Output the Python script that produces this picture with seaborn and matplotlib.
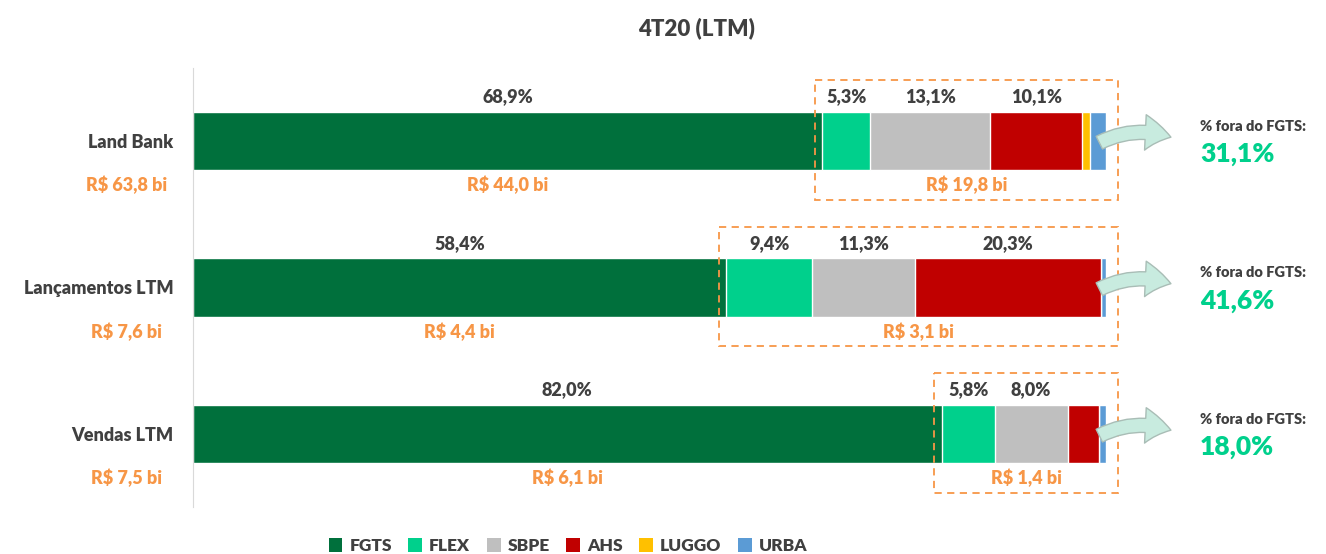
import numpy as np
import pandas as pd
import seaborn as sns
import matplotlib.pyplot as plt
from matplotlib.patches import Rectangle, Patch, FancyArrowPatch

# data
categories = ["Land Bank", "Lançamentos LTM", "Vendas LTM"]
segments = ["FGTS", "FLEX", "SBPE", "AHS", "LUGGO", "URBA"]
fgts = [68.9, 58.4, 82.0]
flex = [5.3, 9.4, 5.8]
sbpe = [13.1, 11.3, 8.0]
ahs = [10.1, 20.3, 3.4]
luggo = [0.9, 0.0, 0.0]
urba = [1.7, 0.6, 0.8]
total_bi = ["R$ 63,8 bi", "R$ 7,6 bi", "R$ 7,5 bi"]
fgts_bi = ["R$ 44,0 bi", "R$ 4,4 bi", "R$ 6,1 bi"]
other_bi = ["R$ 19,8 bi", "R$ 3,1 bi", "R$ 1,4 bi"]
fora_pct = ["31,1%", "41,6%", "18,0%"]

colors = ["#00703C", "#00D08C", "#BFBFBF", "#C00000", "#FFC000", "#5B9BD5"]
ORANGE = "#F79646"
DARK = "#404040"
W = "heavy"


def fmt_pct(v):
    return f"{v:.1f}%".replace(".", ",")


def main():
    sns.set_style("white")
    plt.rcParams["font.family"] = ["Lato", "DejaVu Sans"]

    df = pd.DataFrame({"FGTS": fgts, "FLEX": flex, "SBPE": sbpe, "AHS": ahs,
                       "LUGGO": luggo, "URBA": urba}, index=categories)
    cum = df.cumsum(axis=1)

    fig = plt.figure(figsize=(13.26, 5.54), dpi=100)
    ax = fig.add_axes([193 / 1326, 0.0844, 913 / 1326, 0.7933])

    # stacked bars: draw cumulative totals from the last segment back to the first
    for seg, col in reversed(list(zip(segments, colors))):
        sns.barplot(x=cum[seg].values, y=categories, orient="h", color=col,
                    width=0.4, saturation=1, ax=ax, zorder=2)

    ax.set_xlim(0, 100)
    ax.set_ylim(2.5, -0.5)
    ax.set_xlabel("")
    ax.set_ylabel("")
    ax.set_xticks([])
    for s in ["top", "right", "bottom"]:
        ax.spines[s].set_visible(False)
    ax.spines["left"].set_color("#D9D9D9")
    ax.tick_params(axis="y", length=0, pad=14)
    for lbl in ax.get_yticklabels():
        lbl.set_fontsize(13)
        lbl.set_fontweight(W)
        lbl.set_color(DARK)

    for i, cat in enumerate(categories):
        starts = cum.iloc[i] - df.iloc[i]
        # percentage labels above the segments
        for seg in segments:
            v = df.loc[cat, seg]
            if v >= 5:
                ax.text(starts[seg] + v / 2, i - 0.30, fmt_pct(v), ha="center",
                        va="center", fontsize=13, fontweight=W, color=DARK)
        # values below
        ax.text(fgts[i] / 2, i + 0.30, fgts_bi[i], ha="center", va="center",
                fontsize=13, fontweight=W, color=ORANGE)
        x0 = fgts[i] - 0.8
        x1 = 101.3
        ax.add_patch(Rectangle((x0, i - 0.415), x1 - x0, 0.815, fill=False,
                               edgecolor=ORANGE, linestyle=(0, (4, 3)),
                               linewidth=1.3, zorder=3, clip_on=False))
        ax.text((x0 + x1) / 2, i + 0.30, other_bi[i], ha="center", va="center",
                fontsize=13, fontweight=W, color=ORANGE)
        # total at the left
        ax.text(-7.3, i + 0.30, total_bi[i], ha="center", va="center",
                fontsize=13, fontweight=W, color=ORANGE, clip_on=False)
        # arrow and share outside FGTS
        arrow = FancyArrowPatch((99.0, i + 0.02), (107.4, i - 0.02),
                                connectionstyle="arc3,rad=-0.22",
                                arrowstyle="simple,head_length=0.55,head_width=0.75,tail_width=0.3",
                                mutation_scale=34, facecolor="#C8EBDF",
                                edgecolor="#A9BDB6", linewidth=1.0,
                                zorder=4, clip_on=False)
        ax.add_patch(arrow)
        ax.text(110.3, i - 0.10, "% fora do FGTS:", ha="left", va="center",
                fontsize=10.5, fontweight=W, color=DARK, clip_on=False)
        ax.text(110.3, i + 0.09, fora_pct[i], ha="left", va="center",
                fontsize=19, fontweight=W, color="#00D08C", clip_on=False)

    fig.text(697 / 1326, 1 - 28 / 554, "4T20 (LTM)", ha="center", va="center",
             fontsize=16, fontweight=W, color=DARK)

    handles = [Patch(facecolor=c, edgecolor="none", label=s)
               for s, c in zip(segments, colors)]
    leg = fig.legend(handles=handles, loc="center", ncol=6, frameon=False,
                     bbox_to_anchor=(568 / 1326, 1 - 546 / 554),
                     handlelength=0.8, handleheight=0.8, handletextpad=0.4,
                     columnspacing=0.95, fontsize=12.5)
    for t in leg.get_texts():
        t.set_fontweight(W)
        t.set_color(DARK)

    fig.savefig("out.png", dpi=100)


if __name__ == "__main__":
    main()
